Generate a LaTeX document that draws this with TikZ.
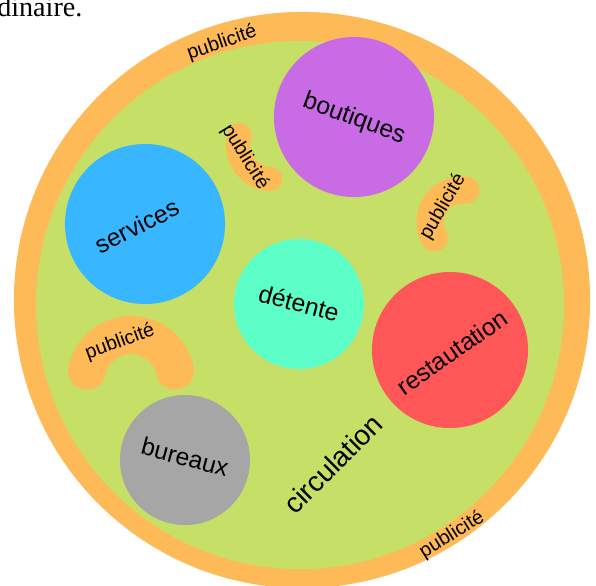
\documentclass[tikz,border=0pt]{standalone}
\usepackage{fontspec}
\setmainfont{Liberation Sans}
\newfontfamily\textserif{Liberation Serif}
\definecolor{pubcol}{HTML}{FFBA58}
\definecolor{circcol}{HTML}{C6DF67}
\definecolor{boutcol}{HTML}{C86BE4}
\definecolor{servcol}{HTML}{38B6FF}
\definecolor{detcol}{HTML}{5CFFC8}
\definecolor{restcol}{HTML}{FF5757}
\definecolor{burcol}{HTML}{A6A6A6}

\begin{document}
\begin{tikzpicture}[x=0.025cm, y=-0.025cm,
    zone/.style={circle, inner sep=0pt},
    word/.style={inner sep=0pt, font=\fontsize{17.5}{20}\selectfont},
    pub/.style={inner sep=0pt, font=\fontsize{14}{16}\selectfont},
    blob/.style={draw=pubcol, line cap=round}]
    \useasboundingbox (0,0) rectangle (596,585);
    \node[anchor=base west, inner sep=0pt, font=\textserif\fontsize{20}{24}\selectfont] (prev) at (-3,17) {dinaire.};
    % ring and floor
    \node[zone, fill=pubcol, minimum size=14.4cm] (ring) at (302,300) {};
    \node[zone, fill=circcol, minimum size=13.2cm] (floor) at (300,305) {};
    \node[pub, rotate=19] (pubtop) at (222,43) {publicité};
    \node[pub, rotate=32] (pubbot) at (452,535) {publicité};
    % small ads
    \draw[blob, line width=0.6cm] (272,145) ++(197:34) arc[start angle=197, end angle=93, radius=34];
    \draw[blob, line width=0.675cm] (462,222) ++(277:32) arc[start angle=277, end angle=150, radius=32];
    \draw[blob, line width=0.95cm] (131,380) ++(192:45) arc[start angle=192, end angle=348, radius=45];
    \node[pub, rotate=-58] (pubone) at (245,157) {publicité};
    \node[pub, rotate=60] (pubtwo) at (443,207) {publicité};
    \node[pub, rotate=20] (pubthree) at (120,342) {publicité};
    % zones
    \node[zone, fill=boutcol, minimum size=4cm] (boutiques) at (354,117) {};
    \node[zone, fill=servcol, minimum size=4cm] (services) at (145,224) {};
    \node[zone, fill=detcol, minimum size=3.25cm] (detente) at (299,304) {};
    \node[zone, fill=restcol, minimum size=3.9cm] (restau) at (450,350) {};
    \node[zone, fill=burcol, minimum size=3.25cm] (bureaux) at (185,460) {};
    \node[word, rotate=-20] at (354,119) {boutiques};
    \node[word, rotate=27] at (137,226) {services};
    \node[word, rotate=-15] at (299,303) {détente};
    \node[word, rotate=35] at (452,352) {restautation};
    \node[word, rotate=-15] at (185,457) {bureaux};
    \node[word, rotate=45, font=\fontsize{20}{24}\selectfont] (circ) at (333,464) {circulation};
\end{tikzpicture}
\end{document}
